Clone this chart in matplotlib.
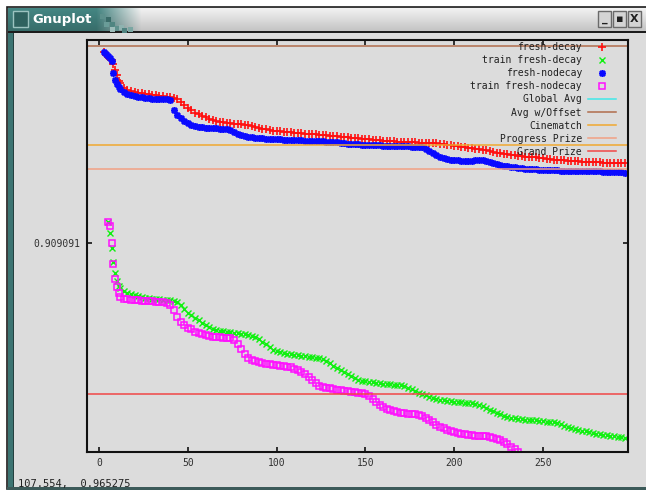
import matplotlib
matplotlib.use("Agg")
import matplotlib.pyplot as plt
import numpy as np
from matplotlib.patches import Rectangle
from matplotlib.ticker import FixedLocator, FixedFormatter, NullLocator

W, H = 646, 492

# probe RMSE per epoch
fresh_decay_x = sorted(list(range(3, 12)) + list(range(12, 297, 4)) + [46, 50])
fresh_decay = [0.98543, 0.98418, 0.98334, 0.98251, 0.98209, 0.98043, 0.97794, 0.97588, 0.97341,
               0.97259, 0.96971, 0.96889, 0.96848, 0.96807, 0.96766, 0.96725, 0.96684,
               0.96602, 0.96480, 0.96358, 0.96235, 0.96154, 0.95991, 0.95869, 0.95747,
               0.95666, 0.95626, 0.95585, 0.95585, 0.95545, 0.95464, 0.95383, 0.95343,
               0.95303, 0.95263, 0.95263, 0.95222, 0.95182, 0.95182, 0.95142, 0.95142,
               0.95102, 0.95062, 0.95062, 0.95021, 0.94981, 0.94981, 0.94941, 0.94901,
               0.94901, 0.94861, 0.94861, 0.94861, 0.94821, 0.94821, 0.94821, 0.94781,
               0.94740, 0.94700, 0.94660, 0.94620, 0.94580, 0.94540, 0.94500, 0.94420,
               0.94380, 0.94340, 0.94300, 0.94260, 0.94260, 0.94220, 0.94180, 0.94140,
               0.94140, 0.94100, 0.94100, 0.94061, 0.94061, 0.94061, 0.94021, 0.94021,
               0.94021, 0.94021]
fresh_decay_mid_x = list(range(14, 43, 4)) + list(range(54, 295, 4))
fresh_decay_mid = [0.97053, 0.96930, 0.96848, 0.96807, 0.96766, 0.96725, 0.96684, 0.96643,
                   0.96032, 0.95910, 0.95788, 0.95707, 0.95666, 0.95626, 0.95585, 0.95545,
                   0.95505, 0.95424, 0.95383, 0.95303, 0.95303, 0.95263, 0.95222, 0.95222,
                   0.95182, 0.95182, 0.95142, 0.95102, 0.95102, 0.95062, 0.95021, 0.95021,
                   0.94981, 0.94941, 0.94941, 0.94901, 0.94901, 0.94861, 0.94861, 0.94861,
                   0.94821, 0.94821, 0.94821, 0.94781, 0.94740, 0.94700, 0.94660, 0.94620,
                   0.94580, 0.94540, 0.94460, 0.94420, 0.94380, 0.94340, 0.94300, 0.94260,
                   0.94260, 0.94220, 0.94180, 0.94140, 0.94140, 0.94100, 0.94100, 0.94061,
                   0.94061, 0.94061, 0.94021, 0.94021, 0.94021]

fresh_nodecay_x = sorted(list(range(3, 12)) + list(range(12, 297, 4)) + [42, 46])
fresh_nodecay = [0.98543, 0.98459, 0.98376, 0.98292, 0.98168, 0.97670, 0.97382, 0.97217, 0.97094,
                 0.97012, 0.96807, 0.96725, 0.96684, 0.96643, 0.96602, 0.96602, 0.96561,
                 0.96154, 0.95950, 0.95829, 0.95707, 0.95545, 0.95464, 0.95424, 0.95424,
                 0.95383, 0.95383, 0.95263, 0.95142, 0.95062, 0.95021, 0.95021, 0.94981,
                 0.94981, 0.94941, 0.94941, 0.94941, 0.94901, 0.94901, 0.94901, 0.94861,
                 0.94861, 0.94821, 0.94781, 0.94781, 0.94740, 0.94740, 0.94740, 0.94700,
                 0.94700, 0.94700, 0.94700, 0.94660, 0.94660, 0.94580, 0.94420, 0.94260,
                 0.94180, 0.94140, 0.94100, 0.94100, 0.94140, 0.94140, 0.94061, 0.93981,
                 0.93902, 0.93862, 0.93823, 0.93783, 0.93783, 0.93743, 0.93743, 0.93743,
                 0.93703, 0.93703, 0.93703, 0.93703, 0.93703, 0.93703, 0.93664, 0.93664,
                 0.93664, 0.93624]
fresh_nodecay_mid_x = list(range(14, 39, 4)) + list(range(50, 295, 4))
fresh_nodecay_mid = [0.96889, 0.96766, 0.96684, 0.96643, 0.96602, 0.96602, 0.96602,
                     0.95626, 0.95505, 0.95464, 0.95424, 0.95424, 0.95383, 0.95343, 0.95182,
                     0.95102, 0.95062, 0.95021, 0.94981, 0.94981, 0.94981, 0.94941, 0.94941,
                     0.94941, 0.94901, 0.94901, 0.94901, 0.94861, 0.94861, 0.94821, 0.94781,
                     0.94781, 0.94740, 0.94740, 0.94740, 0.94700, 0.94700, 0.94700, 0.94700,
                     0.94660, 0.94660, 0.94500, 0.94340, 0.94220, 0.94140, 0.94140, 0.94100,
                     0.94100, 0.94140, 0.94100, 0.94021, 0.93942, 0.93902, 0.93862, 0.93823,
                     0.93783, 0.93783, 0.93743, 0.93743, 0.93743, 0.93703, 0.93703, 0.93703,
                     0.93703, 0.93703, 0.93703, 0.93664, 0.93664, 0.93664]

train_decay_x = list(range(5, 12)) + list(range(12, 297, 4))
train_decay = [0.91703, 0.91278, 0.90701, 0.90165, 0.89746, 0.89443, 0.89254,
               0.89179, 0.88990, 0.88915, 0.88840, 0.88802, 0.88765, 0.88727, 0.88727,
               0.88652, 0.88390, 0.88166, 0.87979, 0.87794, 0.87645, 0.87571, 0.87534,
               0.87497, 0.87460, 0.87423, 0.87349, 0.87164, 0.86980, 0.86833, 0.86760,
               0.86723, 0.86687, 0.86650, 0.86613, 0.86576, 0.86467, 0.86284, 0.86138,
               0.85992, 0.85847, 0.85738, 0.85702, 0.85665, 0.85629, 0.85629, 0.85593,
               0.85557, 0.85448, 0.85304, 0.85232, 0.85123, 0.85051, 0.85015, 0.84979,
               0.84979, 0.84943, 0.84907, 0.84836, 0.84692, 0.84585, 0.84477, 0.84406,
               0.84370, 0.84334, 0.84334, 0.84298, 0.84263, 0.84263, 0.84191, 0.84085,
               0.84014, 0.83943, 0.83907, 0.83836, 0.83801, 0.83766, 0.83730, 0.83695]
train_decay_mid_x = list(range(14, 295, 4))
train_decay_mid = [0.89065, 0.88952, 0.88877, 0.88802, 0.88765, 0.88765, 0.88727, 0.88690,
                   0.88540, 0.88241, 0.88054, 0.87868, 0.87719, 0.87608, 0.87571, 0.87534,
                   0.87497, 0.87460, 0.87386, 0.87275, 0.87091, 0.86870, 0.86797, 0.86723,
                   0.86687, 0.86650, 0.86613, 0.86576, 0.86540, 0.86394, 0.86211, 0.86065,
                   0.85920, 0.85774, 0.85738, 0.85702, 0.85665, 0.85629, 0.85593, 0.85593,
                   0.85484, 0.85376, 0.85268, 0.85159, 0.85087, 0.85051, 0.85015, 0.84979,
                   0.84943, 0.84943, 0.84872, 0.84764, 0.84656, 0.84549, 0.84441, 0.84406,
                   0.84370, 0.84334, 0.84334, 0.84298, 0.84263, 0.84227, 0.84120, 0.84049,
                   0.83978, 0.83943, 0.83872, 0.83836, 0.83801, 0.83766, 0.83730]

train_nodecay_x = sorted(list(range(5, 12)) + list(range(12, 237, 4)) + [42, 46, 78, 82])
train_nodecay = [0.91703, 0.91548, 0.90893, 0.90089, 0.89519, 0.89216, 0.88990,
                 0.88840, 0.88765, 0.88727, 0.88690, 0.88690, 0.88652, 0.88652, 0.88540,
                 0.88353, 0.88091, 0.87905, 0.87794, 0.87645, 0.87497, 0.87423, 0.87349,
                 0.87349, 0.87312, 0.87238, 0.87090, 0.86907, 0.86723, 0.86576, 0.86467,
                 0.86394, 0.86357, 0.86321, 0.86284, 0.86248, 0.86138, 0.85992, 0.85774,
                 0.85557, 0.85484, 0.85448, 0.85412, 0.85376, 0.85340, 0.85304, 0.85195,
                 0.84979, 0.84800, 0.84692, 0.84620, 0.84585, 0.84549, 0.84513, 0.84406,
                 0.84263, 0.84085, 0.83978, 0.83907, 0.83836, 0.83801, 0.83766, 0.83766,
                 0.83730, 0.83659, 0.83553, 0.83377, 0.83200]
train_nodecay_mid_x = list(range(14, 39, 4)) + list(range(50, 75, 4)) + list(range(86, 235, 4))
train_nodecay_mid = [0.88765, 0.88727, 0.88727, 0.88690, 0.88690, 0.88652, 0.88615,
                     0.87682, 0.87534, 0.87460, 0.87386, 0.87349, 0.87312, 0.87312,
                     0.86503, 0.86430, 0.86357, 0.86321, 0.86284, 0.86248, 0.86175, 0.86065,
                     0.85883, 0.85665, 0.85521, 0.85484, 0.85412, 0.85376, 0.85340, 0.85304,
                     0.85268, 0.85087, 0.84872, 0.84728, 0.84656, 0.84585, 0.84549, 0.84549,
                     0.84477, 0.84334, 0.84156, 0.84049, 0.83943, 0.83872, 0.83836, 0.83801,
                     0.83766, 0.83766, 0.83695, 0.83624, 0.83483, 0.83306]

# reference lines
global_avg = 1.1296
avg_offset = 0.9879
cinematch = 0.9474
progress_prize = 0.9379
grand_prize = 0.8527

mono = "DejaVu Sans Mono"

fig = plt.figure(figsize=(W / 100, H / 100), dpi=100, facecolor="white")

# ---- window chrome ----
bg = fig.add_axes([0, 0, 1, 1])
bg.set_xlim(0, W)
bg.set_ylim(H, 0)
bg.axis("off")

bg.add_patch(Rectangle((7, 7), W, 482, facecolor="#dcdcdc", edgecolor="#1c1c1c", lw=1.2))
bg.add_patch(Rectangle((7.5, 32), 6, 456, facecolor="#3c7472", edgecolor="none"))
bg.add_patch(Rectangle((13, 32), 1.2, 456, facecolor="#24403f", edgecolor="none"))
bg.add_patch(Rectangle((7, 487), W, 3, facecolor="#3c5a59", edgecolor="none"))

teal = np.array([0x3d, 0x78, 0x75]) / 255.0
grey = np.array([0xd8, 0xd8, 0xd8]) / 255.0
cols = np.arange(8, W)
t = np.clip((cols - 96) / 45.0, 0, 1)[None, :, None]
rows = np.linspace(1.12, 0.9, 24)[:, None, None]
bar = ((1 - t) * teal + t * grey) * rows
bg.imshow(np.clip(bar, 0, 1), extent=(8, W, 32, 8), aspect="auto", zorder=1)
bg.add_patch(Rectangle((7.5, 31), W, 1.5, facecolor="#1c1c1c", edgecolor="none", zorder=2))

# checker fade after title
for (cx, cy, cc) in [(100, 14, "#5c908c"), (106, 17, "#3a6c69"), (104, 22, "#6a9c98"),
                     (110, 22, "#4f8581"), (114, 26, "#5e918d"), (119, 25, "#8fb3b0"),
                     (122, 28, "#4f8380"), (128, 27, "#7aa6a2"), (110, 27, "#9dbdba")]:
    bg.add_patch(Rectangle((cx, cy), 4.5, 4.5, facecolor=cc, edgecolor="none", zorder=2))

# icon
bg.add_patch(Rectangle((13, 11), 15, 16, facecolor="#2f625f", edgecolor="#9cc3c0", lw=1, zorder=2))
bg.text(32, 19.5, "Gnuplot", color="white", fontsize=9.5, fontweight="bold",
        va="center", ha="left", zorder=3)

# buttons
for bx, sym in [(598, "_"), (613, "\u25aa"), (628, "X")]:
    bg.add_patch(Rectangle((bx, 11), 13, 16, facecolor="#d4d4d4", edgecolor="#6a6a6a", lw=1, zorder=2))
    bg.text(bx + 6.5, 19.5, sym, color="#202020", fontsize=8, fontweight="bold",
            ha="center", va="center", zorder=3)

# ---- the plot ----
ax = fig.add_axes([87 / W, 1 - 452 / H, 541 / W, 412 / H], facecolor="#dcdcdc")
ax.set_yscale("log")

ax.plot(fresh_decay_x + fresh_decay_mid_x, fresh_decay + fresh_decay_mid, ls="none",
        marker="+", ms=5.3, mew=1.2, color="#ff1010", label="fresh-decay")
ax.plot(train_decay_x + train_decay_mid_x, train_decay + train_decay_mid, ls="none",
        marker="x", ms=4.5, mew=1.0, color="#10f010", label="train fresh-decay")
ax.plot(fresh_nodecay_x + fresh_nodecay_mid_x, fresh_nodecay + fresh_nodecay_mid, ls="none",
        marker=(8, 2, 0), ms=5, mew=1.2, color="#0a0aff", label="fresh-nodecay")
ax.plot(train_nodecay_x + train_nodecay_mid_x, train_nodecay + train_nodecay_mid, ls="none",
        marker="s", ms=4.6, mew=1.1, mfc="none", color="#ff10ff", label="train fresh-nodecay")

ax.axhline(global_avg, color="#40e8e8", lw=1.1, label="Global Avg")
ax.axhline(avg_offset, color="#b06c4c", lw=1.1, label="Avg w/Offset")
ax.axhline(cinematch, color="#f0a830", lw=1.1, label="Cinematch")
ax.axhline(progress_prize, color="#f2a084", lw=1.1, label="Progress Prize")
ax.axhline(grand_prize, color="#f04646", lw=1.1, label="Grand Prize")

ax.set_xlim(-6.8, 297.9)
ax.set_ylim(0.8320, 0.9904)

ax.set_xticks([0, 50, 100, 150, 200, 250])
ax.yaxis.set_major_locator(FixedLocator([1 / 1.1]))
ax.yaxis.set_major_formatter(FixedFormatter(["0.909091"]))
ax.yaxis.set_minor_locator(NullLocator())
ax.tick_params(direction="in", top=True, right=True, length=3.5, width=1.1,
               colors="black", labelcolor="#303030", labelsize=7, pad=4)
ax.tick_params(axis="y", pad=5)
for lab in ax.get_xticklabels() + ax.get_yticklabels():
    lab.set_family(mono)
for sp in ax.spines.values():
    sp.set_linewidth(1.5)
    sp.set_color("#111111")

leg = ax.legend(loc="upper right", bbox_to_anchor=(616 / W, 1 - 42 / H),
                bbox_transform=fig.transFigure, frameon=False, markerfirst=False,
                prop={"family": mono, "size": 7}, handlelength=2.9, handletextpad=0.6,
                labelspacing=0.32, borderpad=0, borderaxespad=0, numpoints=1)
for txt in leg.get_texts():
    txt.set_color("#202020")

fig.text(18 / W, 1 - 484 / H, "107.554,  0.965275", family=mono, fontsize=7.5,
         color="#202020", va="center", ha="left")

fig.savefig("out.png", dpi=100, facecolor="white")
